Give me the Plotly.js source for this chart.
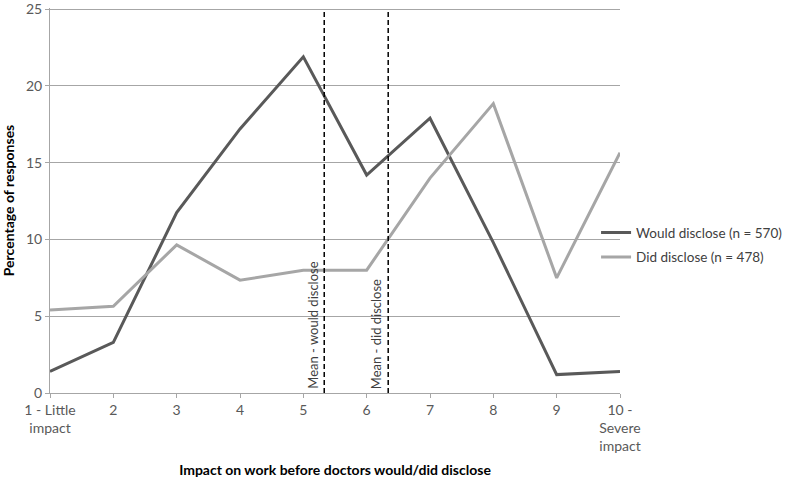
<!DOCTYPE html>
<html>
<head>
<meta charset="utf-8">
<script src="https://cdn.plot.ly/plotly-3.0.1.min.js"></script>
<style>html,body{margin:0;padding:0;background:#fff;}#chart{width:786px;height:480px;}</style>
</head>
<body>
<div id="chart"></div>
<script>
var categories = [1, 2, 3, 4, 5, 6, 7, 8, 9, 10];
var tickLabels = ["1 - Little<br>impact", "2", "3", "4", "5", "6", "7", "8", "9", "10 -<br>Severe<br>impact"];
var wouldDisclose = [1.4, 3.3, 11.75, 17.2, 21.9, 14.2, 17.9, 9.8, 1.2, 1.4];
var didDisclose = [5.4, 5.65, 9.65, 7.35, 8.0, 8.0, 14.0, 18.85, 7.5, 15.65];
var meanWould = 5.33;
var meanDid = 6.34;
var seriesNames = ["Would disclose (n = 570)", "Did disclose (n = 478)"];
var meanLabels = ["Mean - would disclose", "Mean - did disclose"];

var font = "Lato, 'Open Sans', sans-serif";
var traces = [
  {x: categories, y: wouldDisclose, type: "scatter", mode: "lines", name: seriesNames[0],
   legendgroup: "a", line: {color: "#595959", width: 3}},
  {x: categories, y: didDisclose, type: "scatter", mode: "lines", name: seriesNames[1],
   legendgroup: "b", line: {color: "#a6a6a6", width: 3}}
];
var layout = {
  width: 786, height: 480,
  margin: {l: 50, r: 166, t: 8, b: 87, autoexpand: false},
  paper_bgcolor: "#fff", plot_bgcolor: "#fff",
  font: {family: font, size: 14, color: "#595959"},
  showlegend: true,
  legend: {x: 0.958, y: 0.384, xanchor: "left", yanchor: "middle", bgcolor: "rgba(0,0,0,0)",
           traceorder: "grouped", tracegroupgap: 4, borderwidth: 0,
           font: {family: font, size: 13.5, color: "#404040"}},
  xaxis: {
    range: [1, 10], tickmode: "array", tickvals: categories, ticktext: tickLabels,
    showgrid: false, zeroline: false, showline: true, linecolor: "#a6a6a6", linewidth: 1,
    ticks: "outside", ticklen: 4, tickcolor: "#a6a6a6", ticklabeloverflow: "allow",
    tickfont: {family: font, size: 14, color: "#595959"},
    title: {text: "<b>Impact on work before doctors would/did disclose</b>", standoff: 11,
            font: {family: font, size: 14, color: "#000"}}
  },
  yaxis: {
    range: [0, 25.08], tickmode: "array", tickvals: [0, 5, 10, 15, 20, 25],
    showgrid: true, gridcolor: "#a6a6a6", gridwidth: 1, zeroline: false,
    showline: true, linecolor: "#a6a6a6", ticks: "outside", ticklen: 4, tickcolor: "#a6a6a6",
    ticklabeloverflow: "allow",
    tickfont: {family: font, size: 14, color: "#595959"},
    title: {text: "<b>Percentage of responses</b>", standoff: 8,
            font: {family: font, size: 14, color: "#000"}}
  },
  shapes: [
    {type: "line", xref: "x", yref: "y", x0: meanWould, x1: meanWould, y0: 0, y1: 25,
     line: {color: "#000", width: 1.5, dash: "5px,3px"}},
    {type: "line", xref: "x", yref: "y", x0: meanDid, x1: meanDid, y0: 0, y1: 25,
     line: {color: "#000", width: 1.5, dash: "5px,3px"}}
  ],
  annotations: [
    {x: meanWould, y: 0, xref: "x", yref: "y", text: meanLabels[0], textangle: -90,
     showarrow: false, xanchor: "right", yanchor: "bottom", xshift: -2, yshift: 2,
     font: {family: font, size: 13, color: "#404040"}},
    {x: meanDid, y: 0, xref: "x", yref: "y", text: meanLabels[1], textangle: -90,
     showarrow: false, xanchor: "right", yanchor: "bottom", xshift: -2, yshift: 2,
     font: {family: font, size: 13, color: "#404040"}}
  ]
};
Plotly.newPlot("chart", traces, layout, {displayModeBar: false, staticPlot: true});
</script>
</body>
</html>
